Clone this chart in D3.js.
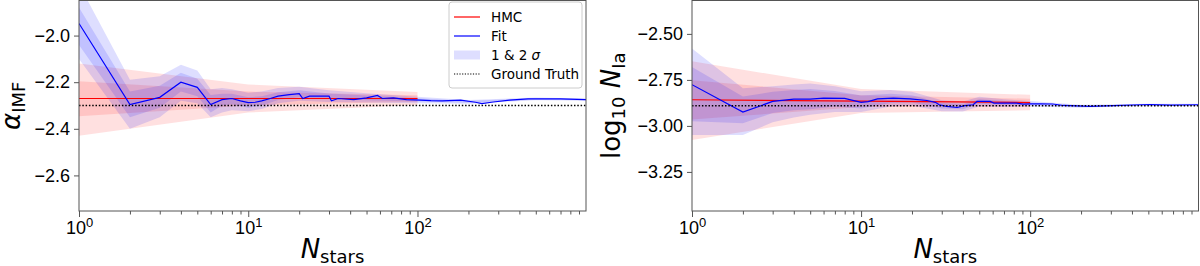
<!DOCTYPE html>
<html>
<head>
<meta charset="utf-8">
<script src="https://cdn.jsdelivr.net/npm/d3@7"></script>
<style>
    body { margin: 0; background: white; }
    svg { display: block; font-family: "DejaVu Sans", sans-serif; }
</style>
</head>
<body>
<div id="chart"></div>
<script>
// ---- alpha_IMF panel ----
const fitN_alpha = [1,2,3,4,5,6,7,8,9,10,11,12,13.5,15,17.5,20,21,23,27,30,31,34,42,50,58,62,72,86,104,120,140,180,220,240,280,350,450,700,990];
const fit_alpha = [-1.948,-2.296,-2.265,-2.200,-2.222,-2.296,-2.275,-2.270,-2.280,-2.288,-2.286,-2.280,-2.270,-2.260,-2.253,-2.249,-2.270,-2.260,-2.260,-2.260,-2.280,-2.270,-2.275,-2.267,-2.257,-2.270,-2.267,-2.275,-2.277,-2.279,-2.280,-2.277,-2.286,-2.292,-2.285,-2.277,-2.272,-2.272,-2.275];
const bandN_alpha = [1,2,3,4,5,6,7,8,10,12,15,20,30,50,100,200,500,990];
const fit2lo_alpha = [-2.10,-2.40,-2.35,-2.28,-2.29,-2.35,-2.33,-2.32,-2.325,-2.315,-2.29,-2.28,-2.285,-2.287,-2.29,-2.292,-2.278,-2.28];
const fit2hi_alpha = [-1.78,-2.19,-2.175,-2.125,-2.15,-2.23,-2.225,-2.23,-2.245,-2.24,-2.225,-2.22,-2.235,-2.247,-2.262,-2.276,-2.266,-2.27];
const fit1lo_alpha = [-2.04,-2.35,-2.31,-2.24,-2.26,-2.33,-2.30,-2.295,-2.31,-2.30,-2.276,-2.265,-2.272,-2.277,-2.283,-2.288,-2.275,-2.2775];
const fit1hi_alpha = [-1.88,-2.24,-2.215,-2.16,-2.185,-2.255,-2.25,-2.25,-2.265,-2.26,-2.243,-2.235,-2.248,-2.257,-2.269,-2.28,-2.269,-2.2725];
const hmcN = [1, 10, 100];
const hmc_alpha = [-2.27, -2.27, -2.27];
const hmc2lo_alpha = [-2.43, -2.33, -2.298];
const hmc2hi_alpha = [-2.12, -2.21, -2.242];
const hmc1lo_alpha = [-2.346, -2.30, -2.284];
const hmc1hi_alpha = [-2.196, -2.24, -2.256];
const truth_alpha = -2.3;
const yTicks_alpha = [-2.6, -2.4, -2.2, -2.0];

// ---- log10 N_Ia panel ----
const fitN_ia = [1,2,3,4,5,6,8,10,11,12.5,15.5,19.5,24.5,27.5,29,32,37,41,46,48.5,58,61,83,91,100,114,136,157,226,310,450,515,680,990];
const fit_ia = [-2.776,-2.925,-2.867,-2.854,-2.854,-2.849,-2.850,-2.872,-2.868,-2.853,-2.849,-2.853,-2.862,-2.872,-2.885,-2.894,-2.900,-2.890,-2.885,-2.867,-2.867,-2.876,-2.876,-2.882,-2.880,-2.880,-2.881,-2.889,-2.894,-2.890,-2.885,-2.884,-2.887,-2.885];
const bandN_ia = [1,2,3,4,5,7,10,15,20,30,40,50,70,100,200,500,990];
const fit2lo_ia = [-3.05,-3.05,-2.98,-2.955,-2.94,-2.925,-2.925,-2.895,-2.89,-2.92,-2.922,-2.895,-2.897,-2.895,-2.901,-2.891,-2.89];
const fit2hi_ia = [-2.58,-2.795,-2.785,-2.775,-2.77,-2.785,-2.812,-2.805,-2.815,-2.86,-2.868,-2.842,-2.855,-2.865,-2.885,-2.879,-2.88];
const fit1lo_ia = [-2.975,-2.985,-2.93,-2.915,-2.91,-2.895,-2.905,-2.875,-2.873,-2.905,-2.909,-2.88,-2.887,-2.887,-2.897,-2.888,-2.8875];
const fit1hi_ia = [-2.68,-2.84,-2.815,-2.805,-2.80,-2.81,-2.835,-2.825,-2.833,-2.875,-2.882,-2.855,-2.865,-2.873,-2.889,-2.882,-2.8825];
const hmc_ia = [-2.858, -2.865, -2.873];
const hmc2lo_ia = [-3.076, -2.93, -2.915];
const hmc2hi_ia = [-2.649, -2.80, -2.831];
const hmc1lo_ia = [-2.965, -2.897, -2.894];
const hmc1hi_ia = [-2.752, -2.833, -2.852];
const truth_ia = -2.89;
const yTicks_ia = [-3.25, -3.0, -2.75, -2.5];

const legendItems = ['HMC', 'Fit', '1 & 2 σ', 'Ground Truth'];

const width = 1200, height = 266;
const svg = d3.select('#chart').append('svg')
    .attr('width', width)
    .attr('height', height);

function zip(ns, lo, hi) {
    return ns.map((n, i) => ({n: n, lo: lo[i], hi: hi[i]}));
}

function drawPanel(cfg) {
    var x = d3.scaleLog().domain([1, 990]).range([cfg.left, cfg.right]);
    var y = d3.scaleLinear().domain(cfg.yDomain).range([cfg.bottom, cfg.top]);

    var g = svg.append('g');
    var clipId = 'clip' + cfg.id;
    g.append('clipPath').attr('id', clipId)
        .append('rect')
        .attr('x', cfg.left).attr('y', cfg.top)
        .attr('width', cfg.right - cfg.left).attr('height', cfg.bottom - cfg.top);

    var plot = g.append('g').attr('clip-path', 'url(#' + clipId + ')');

    var area = d3.area()
        .x(d => x(d.n))
        .y0(d => y(d.lo))
        .y1(d => y(d.hi));
    var line = d3.line()
        .x(d => x(d[0]))
        .y(d => y(d[1]));

    // HMC bands
    [cfg.hmc2, cfg.hmc1].forEach(b => {
        plot.append('path')
            .attr('d', area(zip(hmcN, b[0], b[1])))
            .attr('fill', 'red')
            .attr('fill-opacity', 0.12);
    });
    // fit bands
    [cfg.fit2, cfg.fit1].forEach(b => {
        plot.append('path')
            .attr('d', area(zip(cfg.bandN, b[0], b[1])))
            .attr('fill', 'blue')
            .attr('fill-opacity', 0.13);
    });

    plot.append('path')
        .attr('d', line(hmcN.map((n, i) => [n, cfg.hmc[i]])))
        .attr('fill', 'none')
        .attr('stroke', 'red')
        .attr('stroke-width', 1.2);

    plot.append('path')
        .attr('d', line(cfg.fitN.map((n, i) => [n, cfg.fit[i]])))
        .attr('fill', 'none')
        .attr('stroke', 'blue')
        .attr('stroke-width', 1.2);

    plot.append('line')
        .attr('x1', cfg.left).attr('x2', cfg.right)
        .attr('y1', y(cfg.truth)).attr('y2', y(cfg.truth))
        .attr('stroke', 'black')
        .attr('stroke-width', 1.5)
        .attr('stroke-dasharray', '1.5,1.8');

    // frame
    g.append('rect')
        .attr('x', cfg.left).attr('y', cfg.top)
        .attr('width', cfg.right - cfg.left).attr('height', cfg.bottom - cfg.top)
        .attr('fill', 'none')
        .attr('stroke', '#555')
        .attr('stroke-width', 1);

    // x axis: minor ticks then major ticks with labels
    var allTicks = x.ticks();
    var majors = allTicks.filter(t => Math.abs(Math.log10(t) - Math.round(Math.log10(t))) < 1e-9);
    var minors = allTicks.filter(t => majors.indexOf(t) === -1);

    var minorAxis = g.append('g')
        .attr('transform', 'translate(0,' + cfg.bottom + ')')
        .call(d3.axisBottom(x).tickValues(minors).tickSize(3.5).tickFormat(''));
    var majorAxis = g.append('g')
        .attr('transform', 'translate(0,' + cfg.bottom + ')')
        .call(d3.axisBottom(x).tickValues(majors).tickSize(6).tickPadding(4).tickFormat(''));
    [minorAxis, majorAxis].forEach(a => {
        a.select('.domain').remove();
        a.selectAll('line').attr('stroke', '#555');
    });
    majorAxis.selectAll('.tick text')
        .attr('font-size', 18)
        .attr('fill', 'black')
        .each(function (d) {
            var t = d3.select(this);
            t.append('tspan').text('10');
            t.append('tspan').attr('dy', -7).attr('font-size', 13).text(Math.round(Math.log10(d)));
        });

    // y axis
    var yAxis = g.append('g')
        .attr('transform', 'translate(' + cfg.left + ',0)')
        .call(d3.axisLeft(y).tickValues(cfg.yTicks).tickSize(5).tickPadding(4).tickFormat(d3.format(cfg.yFormat)));
    yAxis.select('.domain').remove();
    yAxis.selectAll('line').attr('stroke', '#555');
    yAxis.selectAll('text').attr('font-size', 18).attr('fill', 'black');

    // x label
    var xl = g.append('text')
        .attr('x', (cfg.left + cfg.right) / 2)
        .attr('y', 258)
        .attr('text-anchor', 'middle')
        .attr('font-size', 26);
    xl.append('tspan').attr('font-style', 'italic').text('N');
    xl.append('tspan').attr('font-size', 18).attr('dy', 5).text('stars');

    // y label
    var yl = g.append('text')
        .attr('transform', 'translate(' + cfg.ylabelX + ',' + ((cfg.top + cfg.bottom) / 2) + ') rotate(-90)')
        .attr('text-anchor', 'middle')
        .attr('font-size', 26);
    cfg.ylabel.forEach(p => {
        var ts = yl.append('tspan').text(p.t);
        if (p.italic) ts.attr('font-style', 'italic');
        if (p.sub) ts.attr('font-size', 18).attr('dy', 5);
        if (p.back) ts.attr('dy', -5);
    });

    return {x: x, y: y, g: g};
}

var left = drawPanel({
    id: 'a', left: 79, right: 586, top: 0.5, bottom: 211,
    yDomain: [-2.7527, -1.8495],
    fitN: fitN_alpha, fit: fit_alpha, bandN: bandN_alpha,
    fit2: [fit2lo_alpha, fit2hi_alpha], fit1: [fit1lo_alpha, fit1hi_alpha],
    hmc: hmc_alpha, hmc2: [hmc2lo_alpha, hmc2hi_alpha], hmc1: [hmc1lo_alpha, hmc1hi_alpha],
    truth: truth_alpha, yTicks: yTicks_alpha, yFormat: '.1f',
    ylabelX: 20,
    ylabel: [{t: 'α', italic: true}, {t: 'IMF', sub: true}]
});

drawPanel({
    id: 'b', left: 692, right: 1198.5, top: 0.5, bottom: 211,
    yDomain: [-3.4624, -2.3186],
    fitN: fitN_ia, fit: fit_ia, bandN: bandN_ia,
    fit2: [fit2lo_ia, fit2hi_ia], fit1: [fit1lo_ia, fit1hi_ia],
    hmc: hmc_ia, hmc2: [hmc2lo_ia, hmc2hi_ia], hmc1: [hmc1lo_ia, hmc1hi_ia],
    truth: truth_ia, yTicks: yTicks_ia, yFormat: '.2f',
    ylabelX: 620,
    ylabel: [{t: 'log'}, {t: '10', sub: true}, {t: ' N', italic: true, back: true}, {t: 'Ia', sub: true}]
});

// legend (left panel only)
var lg = left.g.append('g');
lg.append('rect')
    .attr('x', 449).attr('y', 2)
    .attr('width', 133).attr('height', 86)
    .attr('rx', 3)
    .attr('fill', 'white').attr('fill-opacity', 0.8)
    .attr('stroke', '#ccc');
var rowY = d3.scalePoint().domain(legendItems).range([17, 74]);
legendItems.forEach((name, i) => {
    var yy = rowY(name);
    if (i === 0 || i === 1) {
        lg.append('line').attr('x1', 454).attr('x2', 480).attr('y1', yy).attr('y2', yy)
            .attr('stroke', i === 0 ? 'red' : 'blue').attr('stroke-width', 1.2);
    } else if (i === 2) {
        lg.append('rect').attr('x', 454).attr('y', yy - 4.5).attr('width', 26).attr('height', 9)
            .attr('fill', 'blue').attr('fill-opacity', 0.13);
    } else {
        lg.append('line').attr('x1', 454).attr('x2', 480).attr('y1', yy).attr('y2', yy)
            .attr('stroke', 'black').attr('stroke-width', 1.2).attr('stroke-dasharray', '1.2,1.5');
    }
    var t = lg.append('text').attr('x', 491).attr('y', yy + 5).attr('font-size', 13.5);
    if (i === 2) {
        t.append('tspan').text('1 & 2 ');
        t.append('tspan').attr('font-style', 'italic').text('σ');
    } else {
        t.text(name);
    }
});
</script>
</body>
</html>
